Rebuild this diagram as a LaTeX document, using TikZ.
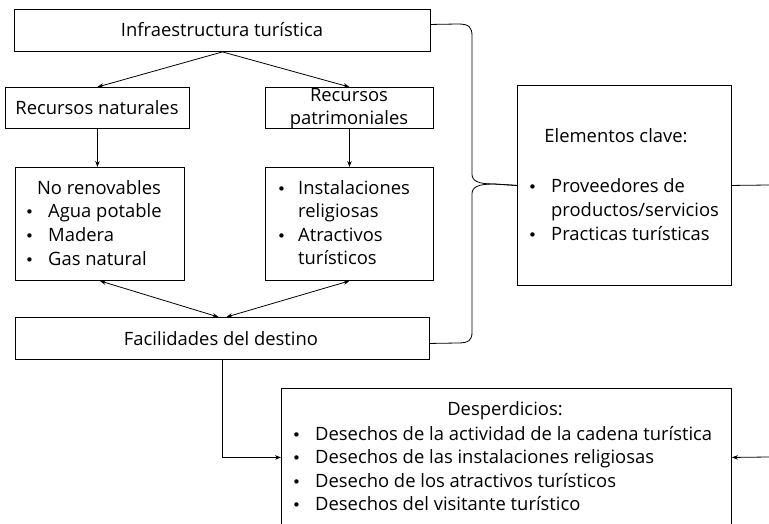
\documentclass[tikz,border=0pt]{standalone}
\usepackage{fontspec}
\setmainfont{Open Sans}
\newfontfamily\bfnt{DejaVu Sans}
\usetikzlibrary{arrows.meta,calc}
\newcommand{\fs}{\fontsize{18.4}{23.6}\selectfont}
\newcommand{\bulitem}[1][23pt]{\makebox[#1][l]{{\bfnt\fontsize{15}{15}\selectfont •}}}
\begin{document}
\begin{tikzpicture}[x=1pt,y=-1pt,
  box/.style={draw, line width=0.9pt, inner sep=0pt, anchor=north west},
  txt/.style={inner sep=0pt, anchor=base west, font=\fs},
  ctxt/.style={inner sep=0pt, anchor=base, font=\fs},
  arr/.style={line width=0.8pt, -{Stealth[length=6pt,width=4.5pt]}},
  darr/.style={line width=0.8pt, {Stealth[length=6pt,width=4.5pt]}-{Stealth[length=6pt,width=4.5pt]}},
  ln/.style={line width=0.8pt}]
\clip (0,0) rectangle (769,524);
\fill[white] (0,0) rectangle (769,524);
% boxes
\node[box, minimum width=416pt, minimum height=42pt] (infra) at (14,9) {};
\node[box, minimum width=184pt, minimum height=41pt] (recnat) at (5,87) {};
\node[box, minimum width=168pt, minimum height=41pt] (recpat) at (265,87) {};
\node[box, minimum width=169pt, minimum height=113pt] (noren) at (15,167) {};
\node[box, minimum width=168pt, minimum height=113pt] (inst) at (265,167) {};
\node[box, minimum width=414pt, minimum height=42pt] (facil) at (15,317) {};
\node[box, minimum width=214pt, minimum height=200pt] (elem) at (517,85) {};
\node[box, minimum width=450pt, minimum height=138pt] (desp) at (281,388) {};
% texts
\node[ctxt] (tinfra) at (222,37) {Infraestructura turística};
\node[ctxt] (trecnat) at (97,115) {Recursos naturales};
\node[ctxt] (trecpat1) at (349,102) {Recursos};
\node[ctxt] (trecpat2) at (349,125) {patrimoniales};
\node[ctxt] (tnoren) at (99,194) {No renovables};
\node[txt] (lnoren) at (25,218) {\begin{tabular}[t]{@{}l@{}}\bulitem Agua potable\\ \bulitem Madera\\ \bulitem Gas natural\end{tabular}};
\node[txt] (linst) at (277,194) {\begin{tabular}[t]{@{}l@{}}\bulitem[21pt]Instalaciones\\ \hspace{21pt}religiosas\\ \bulitem[21pt]Atractivos\\ \hspace{21pt}turísticos\end{tabular}};
\node[ctxt] (tfacil) at (221,345) {Facilidades del destino};
\node[ctxt] (telem) at (616,143) {Elementos clave:};
\node[txt] (lelem) at (528,193) {\begin{tabular}[t]{@{}l@{}}\bulitem Proveedores de\\ \hspace{23pt}productos/servicios\\ \bulitem Practicas turísticas\end{tabular}};
\node[ctxt] (tdesp) at (505,415) {Desperdicios:};
\node[txt] (ldesp) at (292,440) {\begin{tabular}[t]{@{}l@{}}\bulitem Desechos de la actividad de la cadena turística\\ \bulitem Desechos de las instalaciones religiosas\\ \bulitem Desecho de los atractivos turísticos\\ \bulitem Desechos del visitante turístico\end{tabular}};
% connectors
\draw[arr] (infra.south) -- (recnat.north);
\draw[arr] (infra.south) -- (recpat.north);
\draw[arr] (recnat.south) -- (recnat.south |- noren.north);
\draw[arr] (recpat.south) -- (recpat.south |- inst.north);
\draw[darr] (noren.south) -- ([xshift=-4pt]facil.north);
\draw[darr] (inst.south) -- ([xshift=4pt]facil.north);
% brace
\draw[ln] ([yshift=6pt]infra.east) -- (458,24) .. controls (469,24) and (472,27) .. (472,36)
  -- (472,174) .. controls (472,181) and (478,184) .. (494,184) -- (elem.west);
\draw[ln] (elem.west) -- (494,184) .. controls (478,184) and (472,187) .. (472,194)
  -- (472,332) .. controls (472,340) and (469,343) .. (458,343) -- ([yshift=-5pt]facil.east);
% right side
\coordinate (r1) at (769,185);
\coordinate (r2) at (769,457);
\draw[ln] (elem.east) -- (r1);
\draw[arr] (r2) -- (desp.east);
\draw[arr] (facil.south) |- (desp.west);
\end{tikzpicture}
\end{document}
